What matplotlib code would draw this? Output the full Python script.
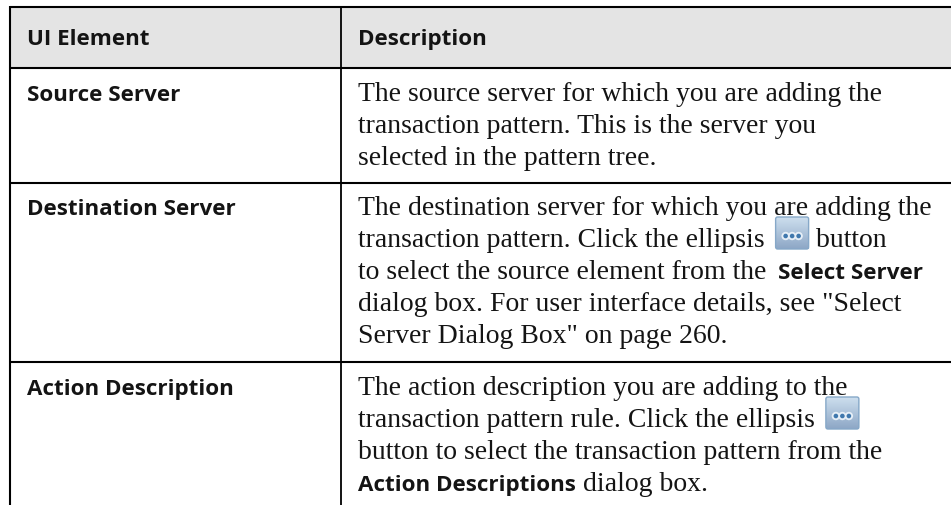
import matplotlib
matplotlib.use('Agg')
import matplotlib.pyplot as plt
from matplotlib.patches import Rectangle, FancyBboxPatch, Circle

headers = ['UI Element', 'Description']
elements = ['Source Server', 'Destination Server', 'Action Description']

# each line is a list of (text, bold) runs, '@' stands for the ellipsis button
source_lines = [
    [('The source server for which you are adding the', False)],
    [('transaction pattern. This is the server you', False)],
    [('selected in the pattern tree.', False)],
]
dest_lines = [
    [('The destination server for which you are adding the', False)],
    [('transaction pattern. Click the ellipsis ', False), ('@', False), (' button', False)],
    [('to select the source element from the ', False), ('Select Server', True)],
    [('dialog box. For user interface details, see "Select', False)],
    [('Server Dialog Box" on page 260.', False)],
]
action_lines = [
    [('The action description you are adding to the', False)],
    [('transaction pattern rule. Click the ellipsis ', False), ('@', False)],
    [('button to select the transaction pattern from the', False)],
    [('Action Descriptions', True), (' dialog box.', False)],
]

SANS = 'Open Sans'
SERIF = 'Liberation Serif'
LINE = 32
INK = '#141414'

fig = plt.figure(figsize=(9.51, 5.06), dpi=100)
ax = fig.add_axes([0, 0, 1, 1])
ax.set_xlim(0, 951)
ax.set_ylim(506, 0)
ax.axis('off')

ax.add_patch(Rectangle((10, 8), 941, 60, facecolor='#e4e4e4', edgecolor='none'))
for y in [8, 68.5, 184, 363]:
    ax.plot([10, 951], [y, y], color='black', lw=1.5, solid_capstyle='butt')
ax.plot([10, 10], [7, 506], color='black', lw=1.5, solid_capstyle='butt')
ax.plot([341, 341], [8, 506], color='black', lw=1.3, solid_capstyle='butt')


def button(x, y):
    for i in range(32):
        ax.add_patch(Rectangle((x, y + i), 33, 1.1, color=(0.80 - i * 0.008, 0.87 - i * 0.007, 0.93 - i * 0.005), lw=0))
    ax.add_patch(FancyBboxPatch((x, y), 33, 32, boxstyle='round,pad=0,rounding_size=2', facecolor='none', edgecolor='#86a8c8', lw=1.0))
    for dx in [10, 16.5, 23]:
        ax.add_patch(Circle((x + dx, y + 19), 4.2, color='#e6eff7', lw=0))
    for dx in [10, 16.5, 23]:
        ax.add_patch(Circle((x + dx, y + 19), 2.3, color='#3f78ad', lw=0))


def draw_lines(lines, x0, y0):
    rend = fig.canvas.get_renderer()
    for n, runs in enumerate(lines):
        x = x0
        y = y0 + n * LINE
        for s, bold in runs:
            if s == '@':
                button(x + 4, y - 29)
                x += 37
                continue
            if bold:
                t = ax.text(x + 5, y, s, family=SANS, weight='bold', fontsize=16.1, color=INK, va='baseline') if n == 2 else ax.text(x, y, s, family=SANS, weight='bold', fontsize=16.1, color=INK, va='baseline')
            else:
                t = ax.text(x, y, s, family=SERIF, fontsize=20, color=INK, va='baseline')
            # the measured extent already counts the spaces at the ends
            x += t.get_window_extent(rend).width


ax.text(27, 45, headers[0], family=SANS, weight='bold', fontsize=16.1, color=INK)
ax.text(358, 45, headers[1], family=SANS, weight='bold', fontsize=16.1, color=INK)
for name, y in zip(elements, [100.5, 215, 395]):
    ax.text(27, y, name, family=SANS, weight='bold', fontsize=16.1, color=INK)

draw_lines(source_lines, 358, 100.5)
draw_lines(dest_lines, 358, 215)
draw_lines(action_lines, 358, 395)

fig.savefig('out.png', dpi=100)
